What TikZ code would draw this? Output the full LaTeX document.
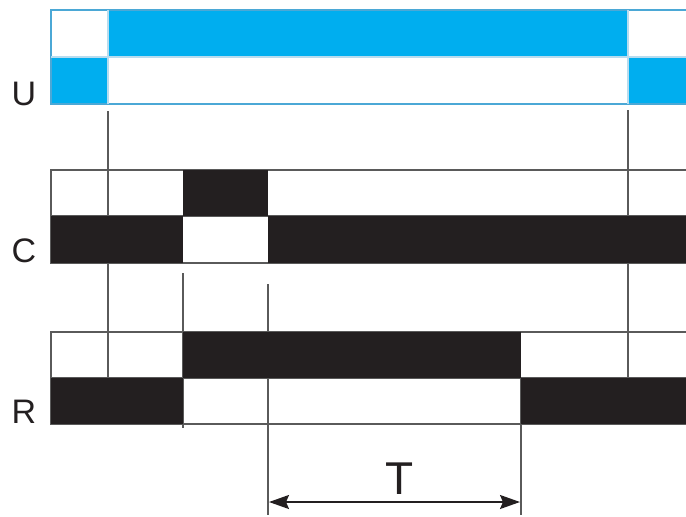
\documentclass[tikz,border=0pt]{standalone}
\usepackage{fontspec}
\setmainfont{Liberation Sans}
\usetikzlibrary{arrows.meta}
\definecolor{ublue}{HTML}{00AEEF}
\definecolor{uedge}{HTML}{4BA8D6}
\definecolor{gline}{HTML}{5A5A5A}
\definecolor{ink}{HTML}{231F20}
\tikzset{
  grid/.style={draw=gline, line width=1.6pt},
  ugrid/.style={draw=uedge, line width=1.4pt},
  tick/.style={draw=gline, line width=1.6pt},
  lab/.style={font=\fontsize{34}{34}\selectfont, anchor=base, text=ink, inner sep=0pt},
  dim/.style={draw=ink, line width=1.8pt, {Stealth[length=20pt,width=14pt,inset=3pt]}-{Stealth[length=20pt,width=14pt,inset=3pt]}}
}
\begin{document}
\begin{tikzpicture}[x=1pt,y=-1pt]
\useasboundingbox (0,0) rectangle (686,517);
% ---------- U row ----------
\fill[ublue] (108,10) rectangle (628,57);
\fill[ublue] (51,57) rectangle (108,104);
\fill[ublue] (628,57) rectangle (686,104);
\draw[ugrid] (686,10) -- (51,10) -- (51,104) -- (686,104);
\draw[ugrid, draw=uedge!40] (51,57) -- (686,57);
\draw[ugrid, draw=uedge!40] (108,10) -- (108,104);
\draw[ugrid, draw=uedge!40] (628,10) -- (628,104);
\node[lab] (lu) at (24,105) {U};
% ---------- vertical tick lines ----------
\coordinate (a1) at (108,111); \coordinate (a2) at (108,378);
\coordinate (b1) at (628,110); \coordinate (b2) at (628,378);
\coordinate (c1) at (183,273); \coordinate (c2) at (183,428);
\coordinate (d1) at (268,284); \coordinate (d2) at (268,515);
\coordinate (e1) at (521,378); \coordinate (e2) at (521,515);
\draw[tick] (a1) -- (a2);
\draw[tick] (b1) -- (b2);
\draw[tick] (c1) -- (c2);
\draw[tick] (d1) -- (d2);
\draw[tick] (e1) -- (e2);
% ---------- C row ----------
\draw[grid] (686,170) -- (51,170) -- (51,263) -- (686,263);
\draw[grid] (51,216) -- (686,216);
\fill[ink] (183,170) rectangle (268,216);
\fill[ink] (51,216) rectangle (183,263);
\fill[ink] (268,216) rectangle (686,263);
\node[lab] (lc) at (24,262) {C};
% ---------- R row ----------
\draw[grid] (686,332) -- (51,332) -- (51,424) -- (686,424);
\draw[grid] (51,378) -- (686,378);
\fill[ink] (183,332) rectangle (521,378);
\fill[ink] (51,378) rectangle (183,424);
\fill[ink] (521,378) rectangle (686,424);
\node[lab] (lr) at (24,423) {R};
% ---------- T dimension ----------
\coordinate (ta) at (269,502);
\coordinate (tb) at (520,502);
\draw[dim] (ta) -- (tb);
\node[lab, font=\fontsize{46}{46}\selectfont] (lt) at (400,494) {T};
\end{tikzpicture}
\end{document}
